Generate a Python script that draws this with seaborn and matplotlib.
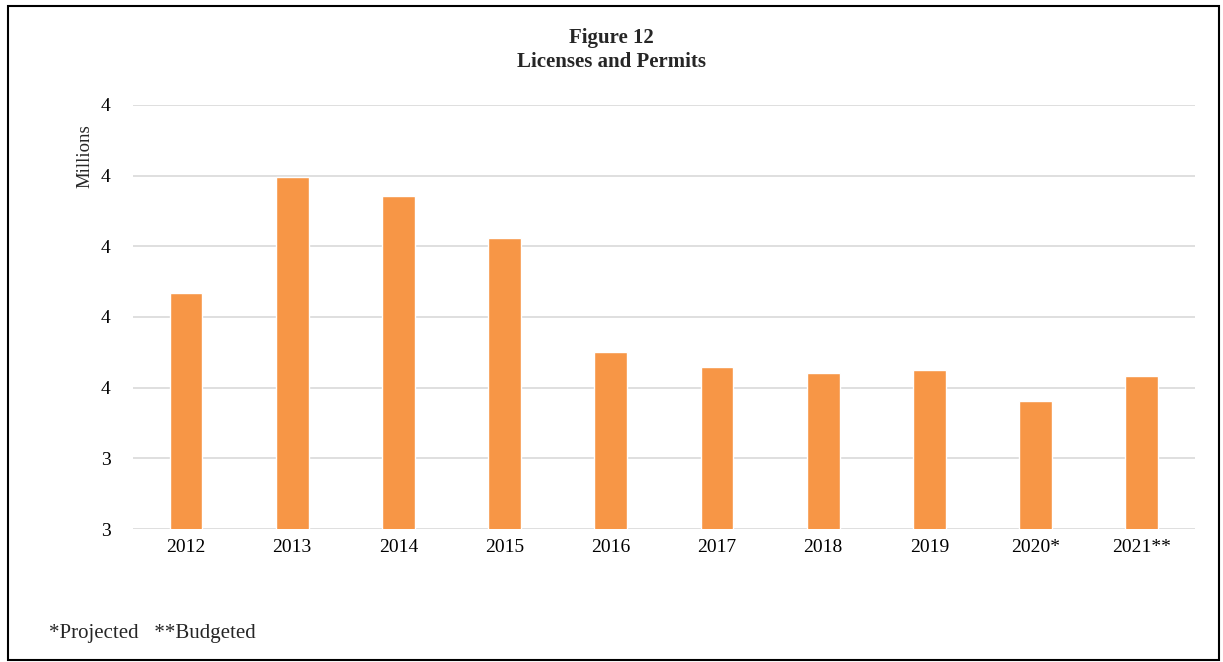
import matplotlib
matplotlib.use("Agg")
import matplotlib.pyplot as plt
import matplotlib.ticker as mticker
from matplotlib.patches import Rectangle
import pandas as pd
import seaborn as sns

# Données (millions)
years = ['2012', '2013', '2014', '2015', '2016', '2017', '2018', '2019', '2020*', '2021**']
values = [3.634, 3.798, 3.771, 3.712, 3.550, 3.529, 3.521, 3.525, 3.481, 3.517]
y_ticks = [3.3, 3.4, 3.5, 3.6, 3.7, 3.8, 3.9]

df = pd.DataFrame({'Year': years, 'Value': values})

sns.set_style("white")
plt.rcParams['font.family'] = ['Liberation Serif', 'DejaVu Serif']

fig = plt.figure(figsize=(12.23, 6.62), dpi=100)
ax = fig.add_axes([0.1087, 0.2009, 0.977 - 0.1087, 0.8414 - 0.2009])

sns.barplot(data=df, x='Year', y='Value', color='#F79646', width=0.31,
            saturation=1, ax=ax, zorder=3)

ax.set_ylim(3.3, 3.9)
ax.set_yticks(y_ticks)
ax.yaxis.set_major_formatter(mticker.FuncFormatter(lambda v, p: f"{int(v + 0.5)}"))
ax.grid(axis='y', color='#D9D9D9', linewidth=1.2, zorder=0)
ax.set_axisbelow(True)
for s in ax.spines.values():
    s.set_visible(False)
ax.tick_params(axis='both', length=0, labelsize=14, colors='#000000')
ax.tick_params(axis='y', pad=16)
ax.tick_params(axis='x', pad=7)
ax.set_xlabel('')
ax.set_ylabel('Millions', fontsize=13.5)
ax.yaxis.set_label_coords(-0.037, 0.88)

fig.text(0.5, 0.943, 'Figure 12', ha='center', va='center', fontsize=15, fontweight='bold')
fig.text(0.5, 0.906, 'Licenses and Permits', ha='center', va='center', fontsize=15, fontweight='bold')
fig.text(0.04, 0.043, '*Projected   **Budgeted', ha='left', va='center', fontsize=15)

# Cadre
fig.patches.append(Rectangle((0.0065, 0.003), 0.99, 0.988, transform=fig.transFigure,
                             fill=False, edgecolor='#000000', linewidth=1.5))

plt.savefig('out.png', dpi=100)
plt.close()
